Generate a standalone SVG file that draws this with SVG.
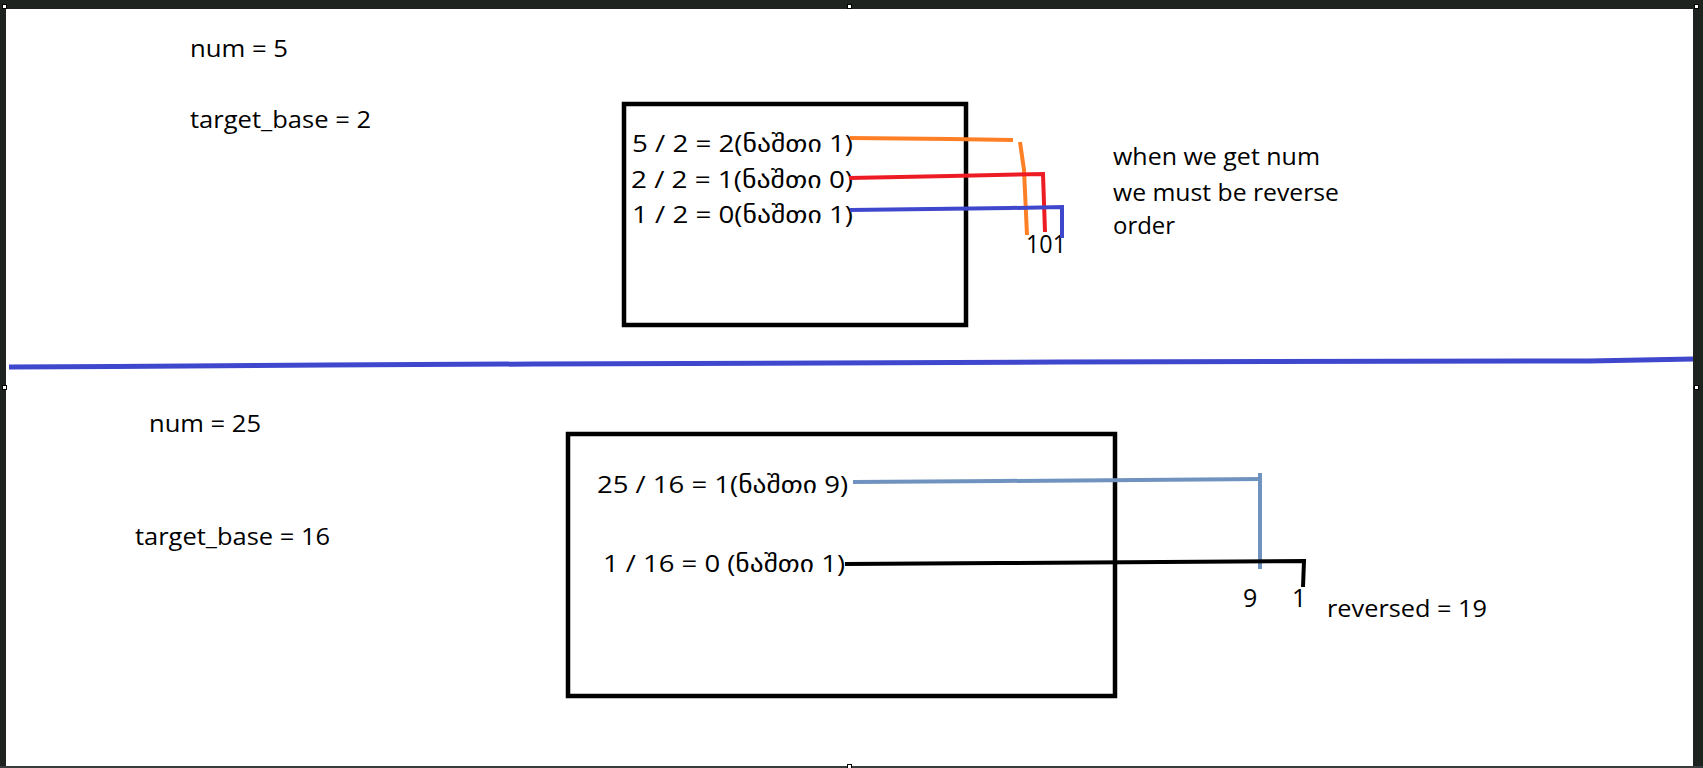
<svg xmlns="http://www.w3.org/2000/svg" width="1703" height="768" viewBox="0 0 1703 768">
<style>
text{font-family:"Open Sans","DejaVu Sans",sans-serif;font-size:24px;fill:#000}
.geo{font-size:24px}
.big{font-size:25px}
.box{fill:none;stroke:#000;stroke-width:4.5}
.ln{fill:none;stroke-width:4;stroke-linejoin:miter}
.handle{fill:#fff;stroke:#000;stroke-width:1}
</style>
<rect x="0" y="0" width="1703" height="768" fill="#fff"/>
<g id="frame">
<rect x="0" y="0" width="1703" height="9" fill="#1f2320"/>
<rect x="0" y="0" width="6" height="768" fill="#1f2320"/>
<rect x="1693" y="0" width="10" height="768" fill="#1f2320"/>
<rect x="0" y="766" width="1703" height="2" fill="#3a3d3d"/>
<rect class="handle" x="2.5" y="4.5" width="4" height="4"/>
<rect class="handle" x="847.5" y="4.5" width="4" height="4"/>
<rect class="handle" x="1694.5" y="4.5" width="4" height="4"/>
<rect class="handle" x="2.5" y="385.5" width="4" height="4"/>
<rect class="handle" x="1694.5" y="385.5" width="4" height="4"/>
<rect class="handle" x="847.5" y="764.5" width="4" height="4"/>
</g>
<g id="divider">
<path d="M9 367 L115 366.5 L325 365 L535 364 L1060 362 L1589 361 L1693 359" fill="none" stroke="#3f48cc" stroke-width="5"/>
</g>
<g id="labels-top">
<text x="190" y="57" textLength="98" lengthAdjust="spacingAndGlyphs">num = 5</text>
<text x="190" y="128" textLength="181" lengthAdjust="spacingAndGlyphs">target_base = 2</text>
</g>
<g id="box-top">
<rect class="box" x="624" y="104" width="342" height="221"/>
<text class="geo" x="632" y="152" textLength="221" lengthAdjust="spacingAndGlyphs">5 / 2 = 2(ნაშთი 1)</text>
<text class="geo" x="631" y="188" textLength="222" lengthAdjust="spacingAndGlyphs">2 / 2 = 1(ნაშთი 0)</text>
<text class="geo" x="632" y="223" textLength="221" lengthAdjust="spacingAndGlyphs">1 / 2 = 0(ნაშთი 1)</text>
</g>
<g id="result-top">
<text class="big" x="1026" y="253" textLength="40" lengthAdjust="spacingAndGlyphs">101</text>
</g>
<g id="note-top">
<text x="1113" y="165" textLength="207" lengthAdjust="spacingAndGlyphs">when we get num</text>
<text x="1113" y="201" textLength="226" lengthAdjust="spacingAndGlyphs">we must be reverse</text>
<text x="1113" y="234" textLength="62" lengthAdjust="spacingAndGlyphs">order</text>
</g>
<g id="labels-bottom">
<text x="149" y="432" textLength="112" lengthAdjust="spacingAndGlyphs">num = 25</text>
<text x="135" y="545" textLength="195" lengthAdjust="spacingAndGlyphs">target_base = 16</text>
</g>
<g id="box-bottom">
<rect class="box" x="568" y="434" width="547" height="262"/>
<text class="geo" x="597" y="493" textLength="251" lengthAdjust="spacingAndGlyphs">25 / 16 = 1(ნაშთი 9)</text>
<text class="geo" x="603" y="572" textLength="242" lengthAdjust="spacingAndGlyphs">1 / 16 = 0 (ნაშთი 1)</text>
</g>
<g id="result-bottom">
<text class="big" x="1243" y="607">9</text>
<text class="big" x="1292" y="607">1</text>
<text x="1327" y="617" textLength="160" lengthAdjust="spacingAndGlyphs">reversed = 19</text>
</g>
<g id="connectors">
<path class="ln" stroke="#ff7f27" d="M850 138 L950 139 L1013 140"/>
<path class="ln" stroke="#ff7f27" d="M1020 142 L1024 170 L1027 235"/>
<path class="ln" stroke="#ed1c24" d="M849 178 L950 176 L1043 174 L1045 232"/>
<path class="ln" stroke="#3f48cc" d="M850 210 L1010 208 L1062 207 L1062 238"/>
<path class="ln" stroke="#7092be" d="M853 482 L1000 481 L1262 479"/>
<path class="ln" stroke="#7092be" d="M1260 473 L1260 569"/>
<path class="ln" stroke="#000" d="M845 564 L1000 563 L1304 561 L1303 587"/>
</g>
</svg>
